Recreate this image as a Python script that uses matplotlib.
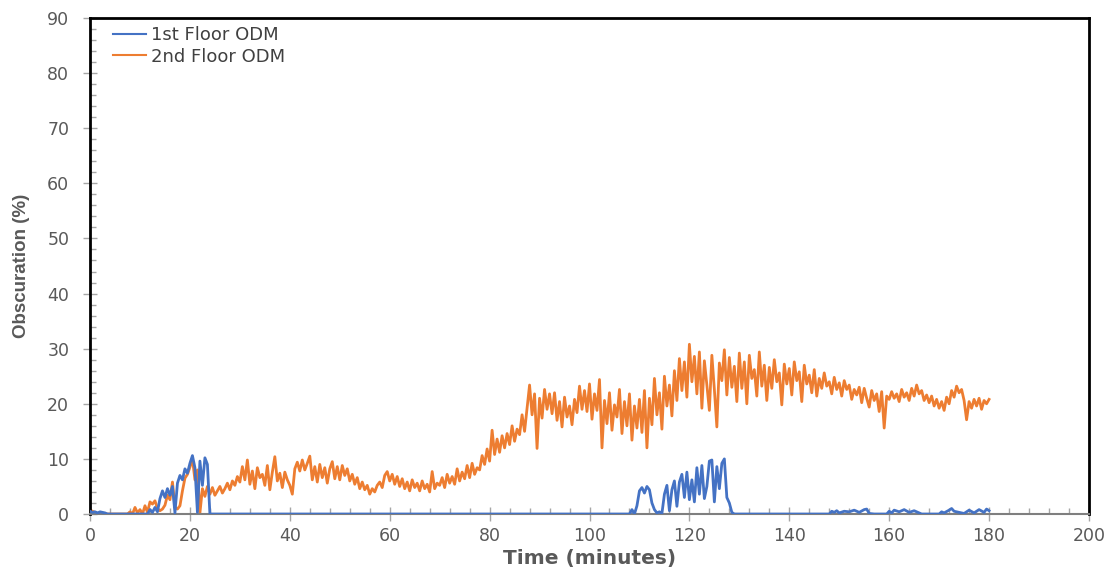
import numpy as np
import matplotlib.pyplot as plt
from matplotlib.ticker import MultipleLocator

# 2nd floor ODM, read every 0.5 min from 0 to 180 min
time_2nd = np.arange(0, 180.5, 0.5)
obsc_2nd = [
    # 0-10
    0.7, 0.5, 0.3, 0.1, 0, 0, 0, 0, 0, 0, 0, 0, 0, 0, 0, 0, 0.4, 0, 1.2, 0.2,
    # 10-20
    0.8, 0, 1.5, 0.3, 2.2, 1.8, 2.4, 1.0, 0.6, 0.9, 1.6, 3.4, 2.6, 5.8, 1.2, 0.9, 1.5, 4.2, 6.5, 7.2,
    # 20-30
    8.5, 10.0, 6.2, 8.0, 0.2, 4.6, 3.2, 5.0, 3.6, 4.8, 3.4, 4.2, 5.0, 3.8, 4.6, 5.6, 4.4, 6.0, 5.2, 6.8,
    # 30-40
    5.8, 8.6, 6.2, 9.8, 5.4, 7.8, 4.6, 8.4, 6.6, 7.2, 5.2, 8.8, 4.4, 7.6, 10.4, 6.0, 7.4, 4.8, 7.6, 6.2,
    # 40-50
    5.2, 3.6, 8.2, 9.4, 7.8, 9.8, 8.0, 9.2, 10.5, 6.2, 8.6, 5.8, 9.0, 6.6, 8.4, 5.6, 8.2, 9.5, 6.4, 8.6,
    # 50-60
    6.2, 8.8, 7.0, 8.2, 6.0, 7.2, 5.4, 6.6, 4.6, 5.8, 4.4, 5.2, 3.6, 4.6, 4.0, 5.2, 5.8, 4.8, 7.0, 7.7,
    # 60-70
    6.0, 7.2, 5.4, 6.8, 5.0, 6.4, 4.6, 5.8, 4.2, 6.2, 4.8, 5.6, 4.2, 6.0, 4.6, 5.4, 4.0, 7.7, 4.6, 5.6,
    # 70-80
    5.2, 6.6, 4.8, 7.2, 5.6, 6.8, 5.4, 8.2, 6.0, 7.6, 6.4, 8.8, 6.6, 9.2, 7.2, 8.4, 8.0, 10.6, 9.0, 11.8,
    # 80-90
    9.6, 15.2, 10.8, 13.6, 11.2, 14.2, 12.0, 14.6, 12.6, 16.0, 13.2, 15.4, 14.4, 18.0, 15.0, 19.2, 23.4, 18.0, 21.8, 11.9,
    # 90-100
    21.0, 17.4, 22.6, 19.0, 21.8, 18.2, 22.0, 17.0, 20.4, 15.8, 21.2, 17.6, 19.6, 16.2, 20.8, 18.4, 23.2, 19.0, 22.4, 18.6,
    # 100-110
    23.6, 17.2, 21.8, 18.8, 24.4, 12.0, 20.6, 16.4, 22.0, 15.2, 19.8, 17.6, 22.6, 14.6, 20.4, 16.0, 21.8, 13.4, 19.6, 15.6,
    # 110-120
    20.8, 14.8, 22.4, 12.0, 21.0, 16.2, 24.6, 18.0, 22.0, 15.4, 25.0, 19.6, 23.4, 17.8, 26.0, 20.6, 28.2, 22.4, 27.6, 21.2,
    # 120-130
    30.8, 24.0, 28.6, 21.8, 29.4, 19.2, 27.8, 23.4, 18.8, 28.8, 22.6, 15.8, 27.4, 24.2, 29.8, 21.6, 28.4, 23.0, 26.8, 20.4,
    # 130-140
    29.2, 22.8, 27.6, 20.0, 28.8, 24.6, 26.2, 21.4, 29.4, 23.2, 27.0, 20.6, 26.6, 22.8, 28.0, 24.0, 25.6, 19.8, 27.2, 23.6,
    # 140-150
    26.4, 21.6, 27.6, 24.2, 25.8, 20.4, 27.0, 23.6, 25.2, 22.0, 26.2, 21.4, 24.6, 22.8, 25.6, 23.2, 24.0, 21.8, 24.8, 22.6,
    # 150-160
    23.8, 21.4, 24.2, 22.6, 23.4, 20.8, 22.6, 21.6, 23.0, 20.2, 22.8, 21.0, 19.4, 22.4, 20.6, 21.8, 18.6, 22.2, 15.6, 21.4,
    # 160-170
    20.8, 22.2, 21.0, 21.8, 20.4, 22.6, 21.2, 22.0, 20.6, 22.8, 21.4, 23.4, 21.8, 22.4, 20.6, 21.6, 20.2, 21.4, 19.6, 20.8,
    # 170-180
    19.2, 20.4, 18.8, 21.2, 20.0, 22.4, 21.2, 23.2, 22.0, 22.6, 20.6, 17.1, 20.4, 19.2, 20.8, 19.6, 21.0, 19.0, 20.6, 20.0,
    20.8,
]

# 1st floor ODM, only the points where it moves off zero
time_1st = [0, 0.5, 1, 1.5, 2, 2.5, 3, 3.5, 11.5, 12, 12.5, 13, 13.5, 14, 14.5, 15, 15.5, 16, 16.5,
            17, 17.5, 18, 18.5, 19, 19.5, 20, 20.5, 21, 21.5, 22, 22.5, 23, 23.5, 24,
            108, 108.5, 109, 109.5, 110, 110.5, 111, 111.5, 112, 112.5, 113, 113.5, 114, 114.5,
            115, 115.5, 116, 116.5, 117, 117.5, 118, 118.5, 119, 119.5, 120, 120.5, 121, 121.5,
            122, 122.5, 123, 123.5, 124, 124.5, 125, 125.5, 126, 126.5, 127, 127.5, 128, 128.5, 129,
            148, 148.5, 149, 149.5, 150, 151, 152, 153, 154, 155, 155.5, 156, 157,
            159.5, 160, 160.5, 161, 162, 163, 164, 165, 166, 166.5,
            170, 170.5, 171, 172, 172.5, 173, 174, 175, 176, 177, 178, 179, 179.5, 180]
obsc_1st = [0.5, 0.3, 0.4, 0.2, 0.4, 0.3, 0.2, 0, 0, 0.8, 0.3, 1.2, 0.4, 2.8, 4.2, 3.0, 4.6, 3.4, 5.0,
            0.2, 5.6, 7.0, 6.2, 8.2, 7.4, 9.2, 10.6, 8.4, 0.3, 9.6, 5.2, 10.2, 9.0, 0,
            0, 0.8, 0, 1.5, 4.2, 4.8, 3.8, 5.0, 4.4, 2.0, 0.8, 0.2, 0.4, 0.1,
            3.6, 5.2, 0.6, 4.4, 6.0, 1.4, 5.8, 7.2, 3.0, 7.6, 2.6, 6.2, 2.2, 8.4,
            3.6, 8.8, 2.8, 5.0, 9.6, 9.8, 2.2, 8.6, 4.6, 9.2, 10.0, 3.0, 2.0, 0.3, 0,
            0, 0.5, 0.3, 0.6, 0.2, 0.5, 0.4, 0.7, 0.3, 0.8, 0.9, 0.1, 0,
            0, 0.5, 0.2, 0.7, 0.4, 0.8, 0.3, 0.6, 0.2, 0,
            0, 0.4, 0.2, 0.7, 1.0, 0.5, 0.3, 0.1, 0.7, 0.2, 0.8, 0.3, 0.9, 0.6]

x_ticks = [0, 20, 40, 60, 80, 100, 120, 140, 160, 180, 200]
y_ticks = [0, 10, 20, 30, 40, 50, 60, 70, 80, 90]

fig = plt.figure(figsize=(11.13, 5.71), dpi=100)
ax = fig.add_axes([0.0809, 0.0998, 0.8975, 0.8687])

ax.plot(time_1st, obsc_1st, color='#4472C4', lw=2, label='1st Floor ODM', zorder=3)
ax.plot(time_2nd, obsc_2nd, color='#ED7D31', lw=2, label='2nd Floor ODM', zorder=2)

ax.set_xlim(0, 200)
ax.set_ylim(0, 90)
ax.set_xticks(x_ticks)
ax.set_yticks(y_ticks)
ax.xaxis.set_minor_locator(MultipleLocator(4))
ax.yaxis.set_minor_locator(MultipleLocator(2))

ax.tick_params(which='major', direction='inout', length=10, width=1, color='#A6A6A6',
               labelsize=12.5, labelcolor='#595959')
ax.tick_params(axis='y', which='major', pad=10)
ax.tick_params(axis='x', which='major', pad=4)
ax.tick_params(which='minor', direction='in', length=4, width=1, color='#A6A6A6')

for side in ['left', 'top', 'right']:
    ax.spines[side].set_color('black')
    ax.spines[side].set_linewidth(2)
ax.spines['bottom'].set_color('#7F7F7F')
ax.spines['bottom'].set_linewidth(1.5)

ax.set_xlabel('Time (minutes)', fontsize=14.5, fontweight='bold', color='#595959', labelpad=3)
ax.set_ylabel('Obscuration (%)', fontsize=13.5, fontweight='bold', color='#595959',
              family=['Liberation Sans', 'DejaVu Sans'], labelpad=12)

leg = ax.legend(loc='upper left', bbox_to_anchor=(0.023, 0.984), frameon=False,
                fontsize=13, handlelength=1.8, handletextpad=0.3, labelspacing=0.2,
                borderaxespad=0, borderpad=0)
for t in leg.get_texts():
    t.set_color('#404040')
for h in leg.get_lines():
    h.set_linewidth(1.5)

fig.savefig('out.png', dpi=100)
